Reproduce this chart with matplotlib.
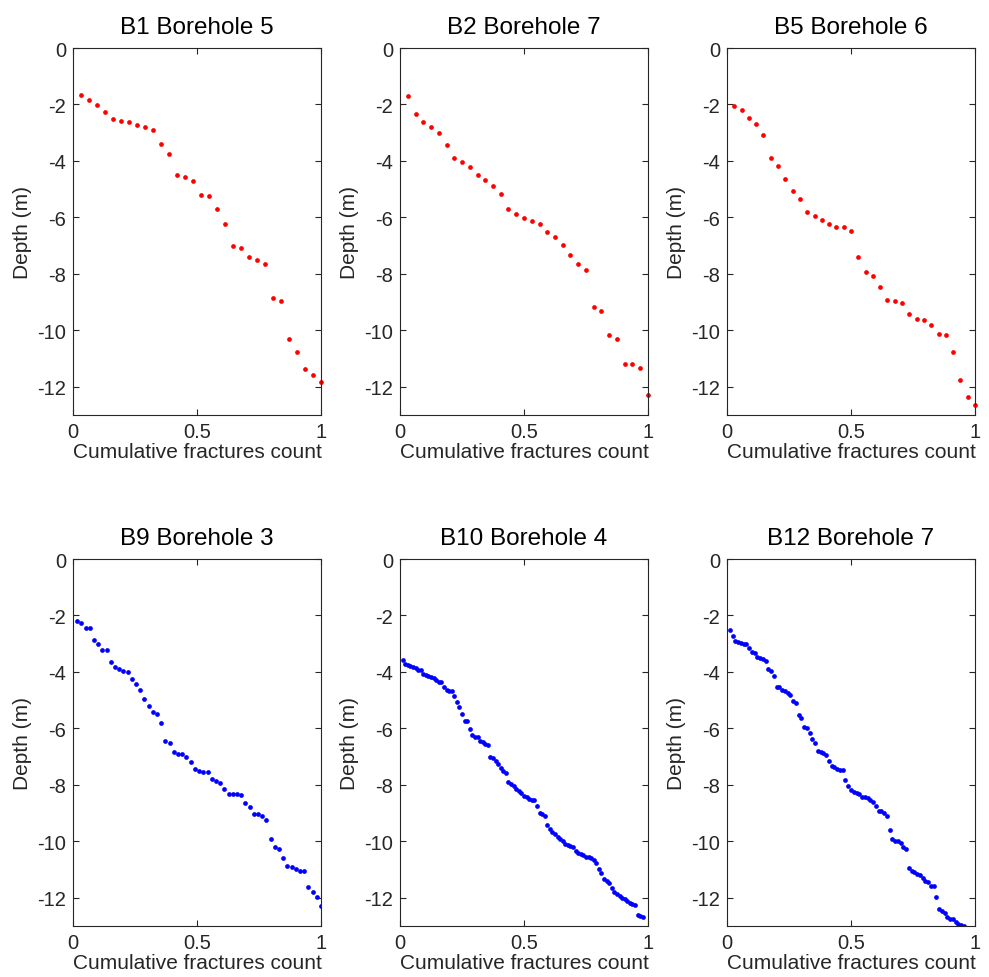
import numpy as np
import matplotlib
matplotlib.use("Agg")
import matplotlib.pyplot as plt

plt.rcParams['font.family'] = ['Liberation Sans', 'DejaVu Sans']
plt.rcParams['axes.unicode_minus'] = False

titles = ["B1 Borehole 5", "B2 Borehole 7", "B5 Borehole 6",
          "B9 Borehole 3", "B10 Borehole 4", "B12 Borehole 7"]
colors = ["red", "red", "red", "blue", "blue", "blue"]

# total fracture counts per borehole (deepest ones below -13 m fall outside the axes)
total_counts = [31, 32, 34, 59, 96, 90]

depth_b1 = [-1.655, -1.856, -2.01, -2.258, -2.53, -2.60, -2.636, -2.73, -2.813, -2.896,
            -3.416, -3.747, -4.50, -4.563, -4.716, -5.20, -5.248, -5.697, -6.229, -6.998,
            -7.092, -7.41, -7.506, -7.636, -8.853, -8.97, -10.296, -10.78, -11.36, -11.596,
            -11.82]

depth_b2 = [-1.702, -2.329, -2.624, -2.813, -3.014, -3.452, -3.889, -4.043, -4.22, -4.492,
            -4.693, -4.882, -5.189, -5.697, -5.863, -6.017, -6.135, -6.217, -6.525, -6.678,
            -6.962, -7.317, -7.636, -7.872, -9.184, -9.326, -10.154, -10.319, -11.206, -11.206,
            -11.324, -12.293]

depth_b5 = [-2.069, -2.199, -2.482, -2.683, -3.085, -3.889, -4.173, -4.645, -5.071, -5.343,
            -5.792, -5.957, -6.087, -6.217, -6.336, -6.336, -6.489, -7.388, -7.931, -8.085,
            -8.452, -8.924, -8.96, -9.031, -9.433, -9.598, -9.622, -9.811, -10.13, -10.177,
            -10.768, -11.773, -12.352, -12.66]

depth_b9 = [-2.213, -2.272, -2.449, -2.461, -2.863, -3.028, -3.206, -3.241, -3.643, -3.808,
            -3.903, -3.962, -3.986, -4.257, -4.411, -4.624, -4.943, -5.215, -5.428, -5.475,
            -5.794, -6.433, -6.515, -6.834, -6.894, -6.905, -7.012, -7.201, -7.449, -7.52,
            -7.544, -7.544, -7.78, -7.863, -7.946, -8.158, -8.336, -8.336, -8.336, -8.359,
            -8.643, -8.773, -9.033, -9.045, -9.116, -9.258, -9.908, -10.204, -10.286, -10.582,
            -10.877, -10.901, -10.972, -11.043, -11.055, -11.61, -11.788, -11.977, -12.296]

depth_b10 = [-3.560, -3.714, -3.749, -3.773, -3.820, -3.868, -3.915, -3.939, -4.069, -4.104,
             -4.139, -4.163, -4.222, -4.293, -4.352, -4.364, -4.518, -4.648, -4.671, -4.671,
             -4.849, -5.061, -5.251, -5.487, -5.723, -5.723, -6.007, -6.220, -6.291, -6.314,
             -6.456, -6.492, -6.563, -6.598, -7.000, -7.059, -7.165, -7.272, -7.414, -7.496,
             -7.579, -7.898, -7.981, -8.040, -8.158, -8.229, -8.277, -8.395, -8.430, -8.489,
             -8.525, -8.548, -8.749, -8.986, -9.045, -9.092, -9.423, -9.577, -9.671, -9.754,
             -9.837, -9.908, -9.991, -10.109, -10.132, -10.156, -10.191, -10.345, -10.404, -10.440,
             -10.487, -10.546, -10.570, -10.582, -10.652, -10.759, -10.972, -11.125, -11.350, -11.409,
             -11.492, -11.669, -11.811, -11.882, -11.941, -12.000, -12.059, -12.118, -12.177, -12.225,
             -12.272, -12.626, -12.662, -12.697]

depth_b12 = [-2.520, -2.733, -2.922, -2.957, -2.981, -3.005, -3.028, -3.147, -3.288, -3.336,
             -3.489, -3.501, -3.548, -3.608, -3.903, -3.950, -4.128, -4.518, -4.530, -4.636,
             -4.671, -4.730, -4.813, -5.026, -5.109, -5.534, -5.629, -5.960, -5.972, -6.149,
             -6.374, -6.515, -6.799, -6.835, -6.870, -6.929, -7.154, -7.331, -7.366, -7.426,
             -7.461, -7.461, -7.839, -8.028, -8.194, -8.241, -8.277, -8.324, -8.418, -8.430,
             -8.454, -8.548, -8.619, -8.738, -8.915, -8.927, -9.009, -9.104, -9.612, -9.931,
             -9.979, -9.991, -10.061, -10.191, -10.262, -10.960, -11.066, -11.102, -11.173, -11.196,
             -11.291, -11.409, -11.456, -11.586, -11.598, -11.976, -12.414, -12.485, -12.532, -12.697,
             -12.745, -12.768, -12.863, -12.922, -12.957, -12.99]

depths = [depth_b1, depth_b2, depth_b5, depth_b9, depth_b10, depth_b12]

x_ticks = [0, 0.5, 1]
x_ticklabels = ["0", "0.5", "1"]
y_ticks = [0, -2, -4, -6, -8, -10, -12]
y_ticklabels = ["0", "-2", "-4", "-6", "-8", "-10", "-12"]

W, H = 989, 978
fig = plt.figure(figsize=(W / 100, H / 100), dpi=100)

lefts = [73, 400, 727]
tops = [49, 560]
aw, ah = 248, 367

for i in range(6):
    r, c = divmod(i, 3)
    l = lefts[c] / W
    b = 1 - (tops[r] + ah) / H
    ax = fig.add_axes([l, b, aw / W, ah / H])
    d = np.asarray(depths[i])
    frac = np.arange(1, len(d) + 1) / total_counts[i]
    ax.plot(frac, d, linestyle='none', marker='o', markersize=3.4,
            markeredgewidth=0, color=colors[i], clip_on=False if i < 3 else True)
    ax.set_xlim(0, 1)
    ax.set_ylim(-13, 0)
    ax.set_xticks(x_ticks)
    ax.set_xticklabels(x_ticklabels)
    ax.set_yticks(y_ticks)
    ax.set_yticklabels(y_ticklabels)
    ax.tick_params(direction='in', top=True, right=True, length=4, width=0.8,
                   labelsize=14.5, color='#262626', labelcolor='#262626', pad=5)
    for s in ax.spines.values():
        s.set_color('#262626')
        s.set_linewidth(0.8)
    ax.set_title(titles[i], fontsize=17.5, color='black', pad=11)
    ax.set_xlabel("Cumulative fractures count", fontsize=15, color='#262626', labelpad=1)
    ax.set_ylabel("Depth (m)", fontsize=15, color='#262626', labelpad=4)

fig.savefig("out.png", dpi=100)
